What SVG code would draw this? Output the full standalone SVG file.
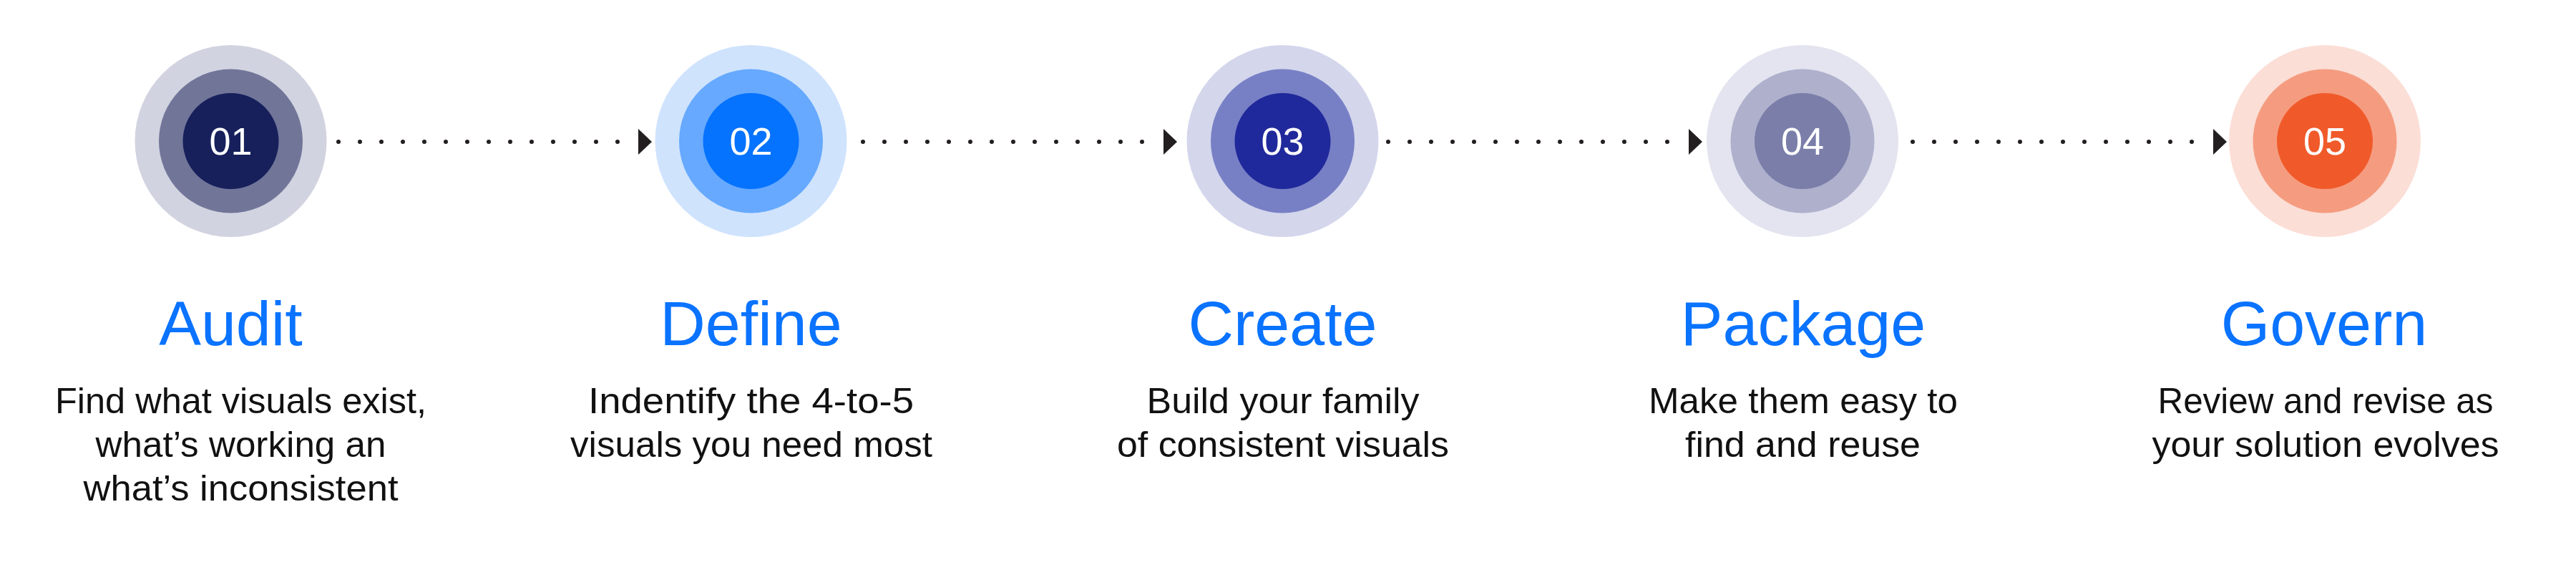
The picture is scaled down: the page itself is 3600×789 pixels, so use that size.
<svg xmlns="http://www.w3.org/2000/svg" width="3600" height="789" viewBox="0 0 3600 789">
  <style>
    .title { font-family: "Liberation Sans", Arial, sans-serif; font-size: 88px; fill: #0A73FF; text-anchor: middle; }
    .desc { font-family: "Liberation Sans", Arial, sans-serif; font-size: 50px; fill: #111111; text-anchor: middle; }
    .num { font-family: "Liberation Sans", Arial, sans-serif; font-size: 54px; fill: #FFFFFF; text-anchor: middle; }
    .dots { fill: none; stroke: #231F20; stroke-width: 6; stroke-linecap: round; stroke-dasharray: 0 30; }
  </style>
  <defs>
    <marker id="arr" markerUnits="userSpaceOnUse" markerWidth="19" markerHeight="36" viewBox="0 0 19 36" refX="0" refY="18" orient="auto">
      <path d="M0 0 L19 18 L0 36 Z" fill="#231F20"/>
    </marker>
  </defs>
  <rect width="3600" height="789" fill="#FFFFFF"/>

  <g id="connectors">
    <path class="dots" d="M473 198 H892" marker-end="url(#arr)"/>
    <path class="dots" d="M1206 198 H1626" marker-end="url(#arr)"/>
    <path class="dots" d="M1940 198 H2360" marker-end="url(#arr)"/>
    <path class="dots" d="M2673 198 H3093" marker-end="url(#arr)"/>
  </g>

  <g id="step1">
    <circle cx="322.5" cy="197" r="134" fill="#D1D3E0"/>
    <circle cx="322.5" cy="197" r="100.5" fill="#717699"/>
    <circle cx="322.5" cy="197" r="67" fill="#17205B"/>
    <text class="num" x="322.5" y="216">01</text>
    <text class="title" x="322.5" y="482">Audit</text>
    <text class="desc" x="336.5" y="577" textLength="519" lengthAdjust="spacingAndGlyphs">Find what visuals exist,</text>
    <text class="desc" x="336.5" y="638" textLength="406" lengthAdjust="spacingAndGlyphs">what’s working an</text>
    <text class="desc" x="336.5" y="699" textLength="440" lengthAdjust="spacingAndGlyphs">what’s inconsistent</text>
  </g>

  <g id="step2">
    <circle cx="1049.5" cy="197" r="134" fill="#CFE3FD"/>
    <circle cx="1049.5" cy="197" r="100.5" fill="#66A9FE"/>
    <circle cx="1049.5" cy="197" r="67" fill="#0673FE"/>
    <text class="num" x="1049.5" y="216">02</text>
    <text class="title" x="1049.5" y="482">Define</text>
    <text class="desc" x="1049.5" y="577" textLength="455" lengthAdjust="spacingAndGlyphs">Indentify the 4-to-5</text>
    <text class="desc" x="1050" y="638" textLength="506" lengthAdjust="spacingAndGlyphs">visuals you need most</text>
  </g>

  <g id="step3">
    <circle cx="1792.5" cy="197" r="134" fill="#D4D6EC"/>
    <circle cx="1792.5" cy="197" r="100.5" fill="#7880C5"/>
    <circle cx="1792.5" cy="197" r="67" fill="#20299B"/>
    <text class="num" x="1792.5" y="216">03</text>
    <text class="title" x="1792.5" y="482">Create</text>
    <text class="desc" x="1793" y="577" textLength="381" lengthAdjust="spacingAndGlyphs">Build your family</text>
    <text class="desc" x="1793" y="638" textLength="464" lengthAdjust="spacingAndGlyphs">of consistent visuals</text>
  </g>

  <g id="step4">
    <circle cx="2519" cy="197" r="134" fill="#E3E4EF"/>
    <circle cx="2519" cy="197" r="100.5" fill="#AEB0CC"/>
    <circle cx="2519" cy="197" r="67" fill="#7A7EA9"/>
    <text class="num" x="2519" y="216">04</text>
    <text class="title" x="2520" y="482">Package</text>
    <text class="desc" x="2520" y="577" textLength="432" lengthAdjust="spacingAndGlyphs">Make them easy to</text>
    <text class="desc" x="2519.5" y="638" textLength="329" lengthAdjust="spacingAndGlyphs">find and reuse</text>
  </g>

  <g id="step5">
    <circle cx="3249" cy="197" r="134" fill="#FBDED6"/>
    <circle cx="3249" cy="197" r="100.5" fill="#F59C80"/>
    <circle cx="3249" cy="197" r="67" fill="#F05A2A"/>
    <text class="num" x="3249" y="216">05</text>
    <text class="title" x="3248" y="482">Govern</text>
    <text class="desc" x="3250" y="577" textLength="469" lengthAdjust="spacingAndGlyphs">Review and revise as</text>
    <text class="desc" x="3250" y="638" textLength="485" lengthAdjust="spacingAndGlyphs">your solution evolves</text>
  </g>
</svg>
